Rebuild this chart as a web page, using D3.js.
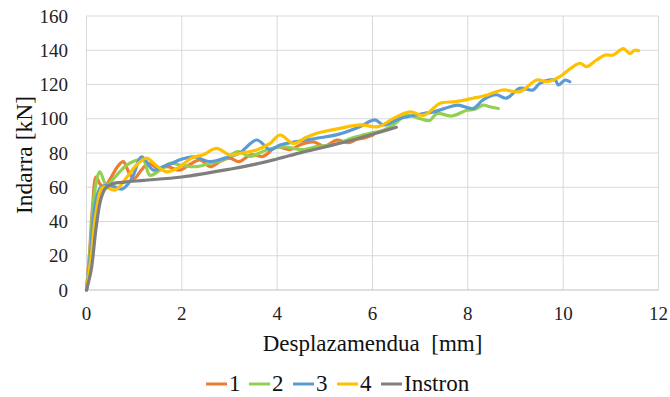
<!DOCTYPE html>
<html>
<head>
<meta charset="utf-8">
<script src="https://cdn.jsdelivr.net/npm/d3@7"></script>
<style>
  body { margin: 0; background: #fff; }
  svg { display: block; font-family: "Liberation Serif", "Times New Roman", serif; }
</style>
</head>
<body>
<svg id="chart" width="670" height="397"></svg>
<script>
// --- Données (x en mm, y en kN)
const xTicks = [0, 2, 4, 6, 8, 10, 12];
const yTicks = [0, 20, 40, 60, 80, 100, 120, 140, 160];
const seriesNames = ["1", "2", "3", "4", "Instron"];
const seriesColors = ["#ED7D31", "#92D050", "#5B9BD5", "#FFC000", "#7F7F7F"];

const series1 = [[0,0],[0.06,20],[0.13,50],[0.2,66],[0.28,62],[0.36,60],[0.5,65],[0.65,72],[0.77,75],[0.9,68],[1.0,65],[1.15,70],[1.3,74],[1.5,71],[1.7,72],[1.96,70],[2.15,73],[2.38,76],[2.6,72],[2.8,75],[3.0,77],[3.2,75],[3.45,79],[3.7,78],[3.99,83.5],[4.27,82],[4.5,85],[4.76,86.5],[5.0,84],[5.25,87.5],[5.5,86],[5.67,88],[5.85,89],[6.01,90.5]];
const series2 = [[0,0],[0.08,25],[0.16,55],[0.28,69],[0.42,61.3],[0.6,66],[0.8,72],[0.98,75],[1.19,76],[1.33,67],[1.54,70],[1.75,74],[1.96,73],[2.31,72],[2.59,74],[2.87,76],[3.18,80.8],[3.43,78],[3.78,81.8],[4.13,83.7],[4.5,82],[4.83,83.7],[5.2,85],[5.6,89],[5.95,91.5],[6.2,93],[6.43,96.4],[6.72,102],[7.0,100],[7.2,99],[7.35,103],[7.66,101.6],[7.98,105],[8.15,105.5],[8.32,108],[8.46,107],[8.64,106]];
const series3 = [[0,0],[0.08,20],[0.17,48],[0.3,60],[0.5,61],[0.75,59],[0.95,65],[1.16,77.8],[1.4,70],[1.6,72],[1.8,74],[1.96,76],[2.24,77.8],[2.59,75],[2.9,77],[3.2,79.8],[3.57,87.6],[3.85,82],[4.06,84.7],[4.4,86.6],[4.83,88.6],[5.3,91],[5.74,95.4],[6.05,99.3],[6.23,96.4],[6.58,100.2],[7.07,103],[7.28,104],[7.63,107],[7.8,108],[8.11,106],[8.32,111],[8.6,114],[8.81,112],[9.09,117.8],[9.37,116.8],[9.51,120.7],[9.83,122.6],[9.9,119.7],[10.04,122.6],[10.14,121.6]];
const series4 = [[0,0],[0.1,20],[0.2,45],[0.35,60],[0.6,58.4],[0.85,66],[1.05,73],[1.26,77],[1.45,73],[1.68,69],[1.96,72],[2.2,77],[2.45,79],[2.73,82.7],[3.01,78.8],[3.25,80],[3.57,81.8],[3.85,85.6],[4.06,90.5],[4.34,85.6],[4.6,89],[4.83,91.5],[5.32,94.4],[5.74,96.4],[6.12,95.4],[6.44,100.2],[6.79,104],[7.07,102],[7.42,109],[7.75,110],[8.11,112],[8.41,113.9],[8.74,116.8],[9.09,115.8],[9.45,122.6],[9.66,121.6],[9.93,124.6],[10.07,127.5],[10.35,132.4],[10.49,130.4],[10.7,134.3],[10.88,137.2],[11.05,137.2],[11.26,141],[11.4,138],[11.5,140],[11.58,139.8]];
const instron = [[0,0],[0.1,12],[0.2,36],[0.3,53],[0.4,59.5],[0.55,62],[0.8,63],[1.2,64],[2,66],[3,70.5],[3.5,73.2],[4,76.5],[4.5,80.2],[5,83.5],[5.5,87],[6,91],[6.5,95]];

const allSeries = [series1, series2, series3, series4, instron];

// --- Zone de tracé
const margin = { left: 86.5, right: 11.5, top: 16, bottom: 107 };
const width = 670, height = 397;

const svg = d3.select("#chart");

const x = d3.scaleLinear().domain([0, 12]).range([margin.left, width - margin.right]);
const y = d3.scaleLinear().domain([0, 160]).range([height - margin.bottom, margin.top]);

// Grille verticale
svg.append("g")
    .selectAll("line")
    .data(xTicks)
    .join("line")
    .attr("x1", d => x(d)).attr("x2", d => x(d))
    .attr("y1", y(0)).attr("y2", y(160))
    .attr("stroke", "#d9d9d9")
    .attr("stroke-width", 1);

// Grille horizontale
svg.append("g")
    .selectAll("line")
    .data(yTicks)
    .join("line")
    .attr("x1", x(0)).attr("x2", x(12))
    .attr("y1", d => y(d)).attr("y2", d => y(d))
    .attr("stroke", d => d === 0 ? "#bfbfbf" : "#d9d9d9")
    .attr("stroke-width", 1);

// Libellés des ticks
svg.append("g")
    .selectAll("text")
    .data(yTicks)
    .join("text")
    .attr("x", 68)
    .attr("y", d => y(d) + 6.5)
    .attr("text-anchor", "end")
    .attr("font-size", 19)
    .attr("fill", "#222")
    .text(d => d);

svg.append("g")
    .selectAll("text")
    .data(xTicks)
    .join("text")
    .attr("x", d => x(d))
    .attr("y", 320)
    .attr("text-anchor", "middle")
    .attr("font-size", 19)
    .attr("fill", "#222")
    .text(d => d);

// Titres des axes
svg.append("text")
    .attr("transform", "translate(32, 155) rotate(-90)")
    .attr("text-anchor", "middle")
    .attr("font-size", 23.5)
    .attr("fill", "#111")
    .text("Indarra [kN]");

svg.append("text")
    .attr("x", (x(0) + x(12)) / 2)
    .attr("y", 351)
    .attr("text-anchor", "middle")
    .attr("font-size", 23)
    .attr("fill", "#111")
    .attr("xml:space", "preserve")
    .text("Desplazamendua  [mm]");

// --- Courbes
const line = d3.line()
    .x(d => x(d[0]))
    .y(d => y(d[1]))
    .curve(d3.curveCatmullRom.alpha(0.5));

svg.append("g")
    .selectAll("path")
    .data(allSeries)
    .join("path")
    .attr("d", line)
    .attr("fill", "none")
    .attr("stroke", (d, i) => seriesColors[i])
    .attr("stroke-width", 3.2)
    .attr("stroke-linejoin", "round")
    .attr("stroke-linecap", "round");

// --- Légende
const legendX = [206, 249, 293, 337, 381];
const legend = svg.append("g")
    .selectAll("g")
    .data(seriesNames)
    .join("g")
    .attr("transform", (d, i) => `translate(${legendX[i]}, 391)`);

legend.append("line")
    .attr("x1", 0).attr("x2", 21)
    .attr("y1", -7).attr("y2", -7)
    .attr("stroke", (d, i) => seriesColors[i])
    .attr("stroke-width", 3);

legend.append("text")
    .attr("x", 23)
    .attr("y", 0)
    .attr("font-size", 23)
    .attr("fill", "#111")
    .text(d => d);
</script>
</body>
</html>
